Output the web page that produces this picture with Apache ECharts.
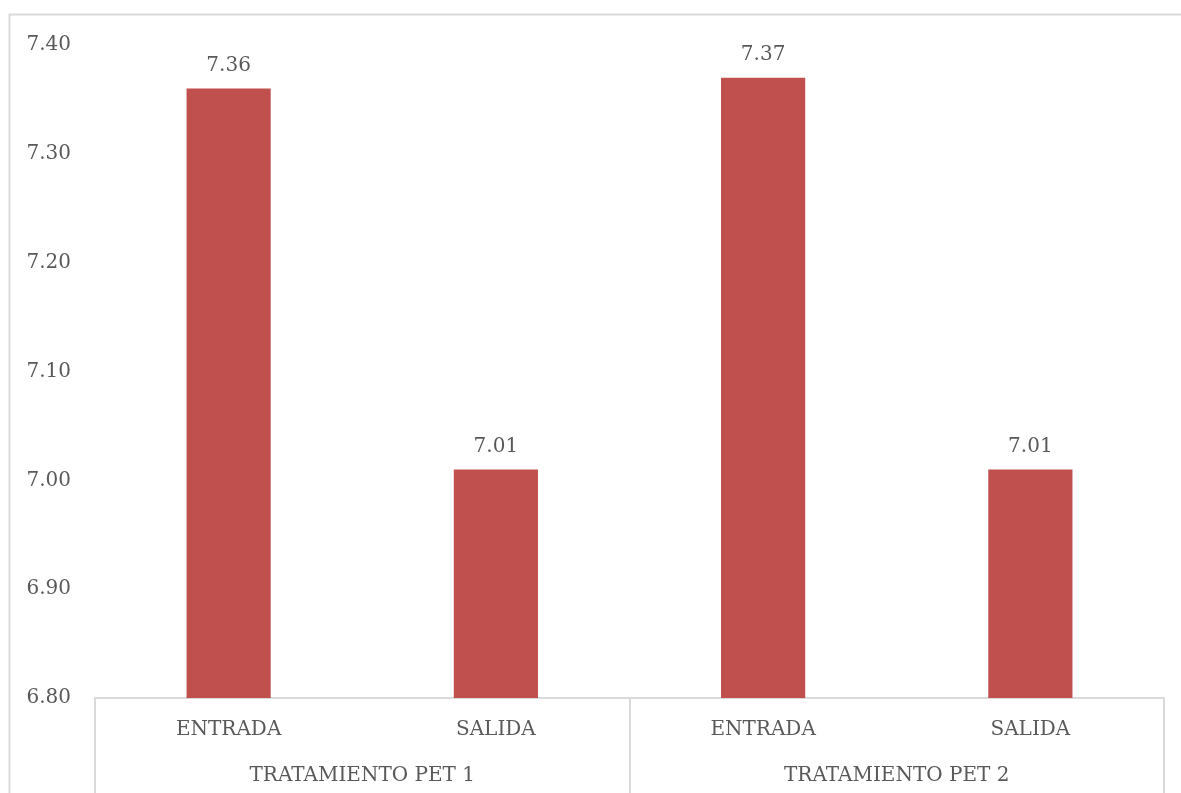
<!DOCTYPE html>
<html>
<head>
<meta charset="utf-8">
<script src="https://cdn.jsdelivr.net/npm/echarts@6/dist/echarts.min.js"></script>
<style>
  html, body { margin: 0; padding: 0; background: #ffffff; }
  #chart { width: 1181px; height: 793px; }
</style>
</head>
<body>
<div id="chart"></div>
<script>
// pH values at inlet and outlet of each PET treatment
const categories = ['ENTRADA', 'SALIDA', 'ENTRADA', 'SALIDA'];
const groups = ['TRATAMIENTO PET 1', 'TRATAMIENTO PET 2'];
const values = [7.36, 7.01, 7.37, 7.01];
const yTicks = { min: 6.8, max: 7.4, step: 0.1 };

const FONT = 'DejaVu Serif';
const TEXT = '#595959';
const LINE = '#d9d9d9';

const chart = echarts.init(document.getElementById('chart'), null, { renderer: 'canvas' });

chart.setOption({
  animation: false,
  backgroundColor: '#ffffff',
  textStyle: { fontFamily: FONT },
  graphic: [{
    type: 'rect',
    shape: { x: 9.5, y: 14.5, width: 1300, height: 900 },
    style: { fill: 'none', stroke: LINE, lineWidth: 2 },
    silent: true,
    z: -10
  }],
  grid: { left: 95, right: 17, top: 45, bottom: 95, containLabel: false },
  xAxis: [
    {
      type: 'category',
      data: categories,
      position: 'bottom',
      axisLine: { show: true, lineStyle: { color: LINE, width: 2 } },
      axisTick: { show: false },
      axisLabel: { color: TEXT, fontFamily: FONT, fontSize: 20, margin: 22 }
    },
    {
      type: 'category',
      data: groups,
      position: 'bottom',
      axisLine: { show: false },
      axisTick: { show: true, alignWithLabel: false, length: 100, lineStyle: { color: LINE, width: 2 } },
      axisLabel: { color: TEXT, fontFamily: FONT, fontSize: 20, margin: 68 }
    }
  ],
  yAxis: {
    type: 'value',
    min: yTicks.min,
    max: yTicks.max,
    interval: yTicks.step,
    axisLine: { show: false },
    axisTick: { show: false },
    splitLine: { show: false },
    axisLabel: {
      color: TEXT, fontFamily: FONT, fontSize: 20, margin: 24,
      formatter: v => v.toFixed(2)
    }
  },
  series: [{
    type: 'bar',
    xAxisIndex: 0,
    data: values,
    barWidth: '31.5%',
    itemStyle: { color: '#C0504D' },
    label: {
      show: true,
      position: 'top',
      distance: 13,
      color: TEXT,
      fontFamily: FONT,
      fontSize: 20,
      formatter: p => p.value.toFixed(2)
    }
  }]
});
</script>
</body>
</html>
